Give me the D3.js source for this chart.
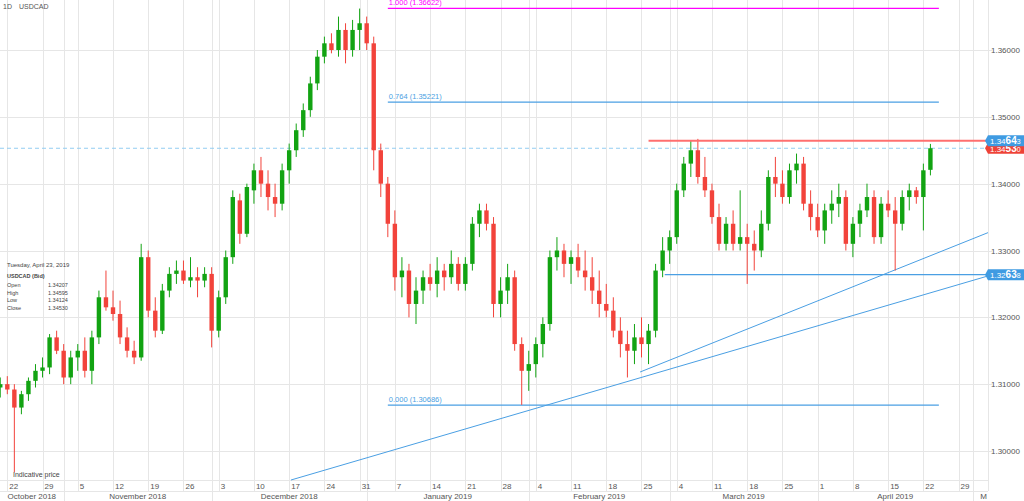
<!DOCTYPE html>
<html>
<head>
<style>
body { margin: 0; background: #fff; }
text { font-family: 'Liberation Sans', Arial, sans-serif; }
</style>
</head>
<body>
<svg id='chart'></svg>
<script src="https://d3js.org/d3.v7.min.js"></script>
<script>
W = 1024
H = 501
PLOT_RIGHT = 988
AXIS_TOP = 480

// trading days from Fri Oct 19 2018 to Tue Apr 23 2019 (index 0 = Mon Oct 22)
var opens  = [1.3095,1.3100,1.3092,1.3065,1.3085,1.3105,1.3120,1.3125,1.3170,1.3150,1.3110,1.3140,1.3150,1.3120,1.3170,1.3230,1.3215,1.3205,1.3170,1.3150,1.3140,1.3290,1.3210,1.3180,1.3240,1.3265,1.3270,1.3255,1.3260,1.3255,1.3265,
              1.3180,1.3230,1.3290,1.3375,1.3325,1.3390,1.3420,1.3400,1.3380,1.3370,1.3420,1.3450,1.3480,1.3510,1.3550,1.3590,1.3610,1.3600,1.3630,1.3600,1.3630,
              1.3640,1.3610,1.3450,1.3400,1.3340,1.3260,1.3270,1.3220,1.3240,1.3260,1.3250,1.3270,1.3260,1.3280,1.3250,1.3280,1.3340,1.3360,1.3340,1.3220,1.3240,1.3260,1.3160,
              1.3120,1.3130,1.3160,1.3190,1.3290,1.3300,1.3280,1.3290,1.3270,1.3260,1.3240,1.3220,1.3210,1.3180,1.3160,1.3150,1.3170,1.3160,1.3180,1.3270,
              1.3300,1.3320,1.3390,1.3430,1.3450,1.3410,1.3390,1.3350,1.3310,1.3340,1.3310,1.3320,1.3310,1.3300,1.3340,1.3410,1.3400,1.3380,1.3420,1.3430,1.3370,
              1.3350,1.3330,1.3360,1.3370,1.3380,1.3310,1.3340,1.3360,1.3380,1.3320,1.3370,1.3360,1.3340,1.3380,1.3390,1.3380,1.34207]
var highs  = [1.3110,1.3112,1.3100,1.3090,1.3110,1.3130,1.3140,1.3175,1.3180,1.3160,1.3150,1.3160,1.3170,1.3180,1.3240,1.3270,1.3240,1.3225,1.3185,1.3165,1.3310,1.3300,1.3230,1.3250,1.3275,1.3285,1.3285,1.3290,1.3275,1.3275,1.3275,
              1.3240,1.3300,1.3390,1.3385,1.3400,1.3430,1.3440,1.3420,1.3400,1.3430,1.3460,1.3490,1.3520,1.3560,1.3600,1.3620,1.3625,1.3650,1.3640,1.3645,1.3662,
              1.3650,1.3620,1.3460,1.3410,1.3360,1.3290,1.3280,1.3260,1.3270,1.3280,1.3290,1.3280,1.3300,1.3290,1.3290,1.3350,1.3370,1.3370,1.3350,1.3260,1.3280,1.3270,1.3170,
              1.3150,1.3170,1.3200,1.3300,1.3320,1.3310,1.3300,1.3310,1.3300,1.3290,1.3270,1.3250,1.3230,1.3200,1.3180,1.3190,1.3200,1.3190,1.3280,1.3320,
              1.3330,1.3400,1.3440,1.3465,1.3467,1.3440,1.3400,1.3370,1.3350,1.3360,1.3390,1.3340,1.3330,1.3360,1.3420,1.3440,1.3420,1.3430,1.3445,1.3440,1.3390,
              1.3370,1.3370,1.3390,1.3400,1.3390,1.3350,1.3370,1.3400,1.3390,1.3380,1.3390,1.3380,1.3390,1.3400,1.3395,1.3430,1.34595]
var lows   = [1.3080,1.3085,1.2968,1.3055,1.3075,1.3095,1.3110,1.3115,1.3145,1.3100,1.3100,1.3120,1.3110,1.3100,1.3160,1.3210,1.3195,1.3160,1.3140,1.3130,1.3135,1.3200,1.3170,1.3175,1.3230,1.3250,1.3250,1.3245,1.3230,1.3245,1.3155,
              1.3170,1.3220,1.3280,1.3310,1.3320,1.3370,1.3380,1.3360,1.3350,1.3360,1.3400,1.3440,1.3470,1.3500,1.3540,1.3580,1.3595,1.3590,1.3580,1.3590,1.3600,
              1.3600,1.3420,1.3380,1.3320,1.3240,1.3230,1.3200,1.3190,1.3220,1.3240,1.3230,1.3240,1.3250,1.3240,1.3240,1.3270,1.3320,1.3330,1.3200,1.3200,1.3220,1.3150,1.3069,
              1.3090,1.3110,1.3140,1.3180,1.3270,1.3260,1.3250,1.3260,1.3240,1.3220,1.3200,1.3200,1.3170,1.3140,1.3110,1.3130,1.3140,1.3130,1.3170,1.3260,
              1.3280,1.3310,1.3380,1.3410,1.3400,1.3380,1.3340,1.3300,1.3300,1.3300,1.3300,1.3250,1.3270,1.3290,1.3330,1.3380,1.3370,1.3370,1.3400,1.3360,1.3330,
              1.3320,1.3310,1.3340,1.3350,1.3300,1.3290,1.3320,1.3350,1.3310,1.3310,1.3350,1.3270,1.3330,1.3360,1.3370,1.3330,1.34124]
var closes = [1.3100,1.3092,1.3065,1.3085,1.3105,1.3120,1.3125,1.3170,1.3150,1.3110,1.3140,1.3150,1.3120,1.3170,1.3230,1.3215,1.3205,1.3170,1.3150,1.3140,1.3290,1.3210,1.3180,1.3240,1.3265,1.3270,1.3255,1.3260,1.3255,1.3265,1.3180,
              1.3230,1.3290,1.3380,1.3325,1.3395,1.3420,1.3400,1.3380,1.3370,1.3420,1.3450,1.3480,1.3510,1.3550,1.3590,1.3610,1.3600,1.3630,1.3600,1.3630,1.3640,
              1.3610,1.3450,1.3400,1.3340,1.3260,1.3270,1.3220,1.3240,1.3260,1.3250,1.3270,1.3260,1.3280,1.3250,1.3280,1.3340,1.3360,1.3340,1.3220,1.3240,1.3260,1.3160,1.3120,
              1.3130,1.3160,1.3190,1.3290,1.3300,1.3280,1.3290,1.3270,1.3260,1.3240,1.3220,1.3210,1.3180,1.3160,1.3150,1.3170,1.3160,1.3180,1.3270,1.3300,
              1.3320,1.3390,1.3430,1.3450,1.3410,1.3390,1.3350,1.3310,1.3340,1.3310,1.3320,1.3310,1.3300,1.3340,1.3410,1.3400,1.3380,1.3420,1.3430,1.3370,1.3350,
              1.3330,1.3360,1.3370,1.3380,1.3310,1.3340,1.3360,1.3380,1.3320,1.3370,1.3360,1.3340,1.3380,1.3390,1.3380,1.3420,1.34530]

var priceTicks = [1.30, 1.31, 1.32, 1.33, 1.34, 1.35, 1.36]
var dayTickLabels = ['22','29','5','12','19','26','3','10','17','24','31','7','14','21','28','4','11','18','25','4','11','18','25','1','8','15','22','29']
var monthLabels = ['October 2018','November 2018','December 2018','January 2019','February 2019','March 2019','April 2019','M']
// index of the bar where each month starts (weekend starts fall on the Friday before)
var monthStarts = [8, 29, 51, 74, 94, 115, 137]

var fibLevels = [1.0, 0.764, 0.0]
var fibPrices = [1.36622, 1.35221, 1.30686]
var fibColors = ['#ff00ff', '#4a9fe3', '#4a9fe3']
var fibSpan = [54, 132.2]

var resistance = 1.34643
var support = 1.32638
var lastBid = 1.34530
// trend lines as [bar index, price] pairs
var trendLines = [
	[[40.26, 1.29566], [139.17, 1.32619]],
	[[89.8, 1.31182], [139.17, 1.33267]]
]

var info = [['Open', '1.34207'], ['High', '1.34595'], ['Low', '1.34124'], ['Close', '1.34530']]

var x = d3.scaleLinear().domain([0, 135]).range([7.3, 958.6])
var y = d3.scaleLinear().domain([1.30, 1.36]).range([451, 50])

var svg = d3.select('#chart').attr('width', W).attr('height', H)

var GRID = '#e6e6e6'
var TEXT = '#555'

// horizontal grid
svg.selectAll('.hgrid').data(priceTicks).enter().append('line')
	.attr('x1', 0).attr('x2', PLOT_RIGHT + 4)
	.attr('y1', function(d){ return Math.round(y(d)) + 0.5 })
	.attr('y2', function(d){ return Math.round(y(d)) + 0.5 })
	.style('stroke', GRID)

// weekly grid
var mondays = d3.range(0, 136, 5)
svg.selectAll('.vgrid').data(mondays).enter().append('line')
	.attr('x1', function(d){ return Math.round(x(d)) + 0.5 })
	.attr('x2', function(d){ return Math.round(x(d)) + 0.5 })
	.attr('y1', 0).attr('y2', 491)
	.style('stroke', GRID)

// month separators
svg.selectAll('.mgrid').data(monthStarts).enter().append('line')
	.attr('x1', function(d){ return Math.round(x(d)) + 0.5 })
	.attr('x2', function(d){ return Math.round(x(d)) + 0.5 })
	.attr('y1', 0).attr('y2', H)
	.style('stroke', GRID)

// axis frame
svg.append('line').attr('x1', PLOT_RIGHT + 0.5).attr('x2', PLOT_RIGHT + 0.5).attr('y1', 0).attr('y2', 491).style('stroke', GRID)
svg.append('line').attr('x1', 0).attr('x2', PLOT_RIGHT).attr('y1', AXIS_TOP + 0.5).attr('y2', AXIS_TOP + 0.5).style('stroke', GRID)
svg.append('line').attr('x1', 0).attr('x2', PLOT_RIGHT).attr('y1', 491.5).attr('y2', 491.5).style('stroke', GRID)

// price labels
svg.selectAll('.ptick').data(priceTicks).enter().append('text')
	.attr('x', PLOT_RIGHT + 3)
	.attr('y', function(d){ return y(d) + 3 })
	.attr('font-size', 8)
	.style('fill', TEXT)
	.text(function(d){ return d.toFixed(5) })

// day labels
svg.selectAll('.dtick').data(dayTickLabels).enter().append('text')
	.attr('x', function(d, i){ return x(i * 5) + 2 })
	.attr('y', 489)
	.attr('font-size', 8)
	.style('fill', TEXT)
	.text(function(d){ return d })

// month labels
var bounds = [x.invert(0)].concat(monthStarts).concat([x.invert(PLOT_RIGHT)])
svg.selectAll('.mlabel').data(monthLabels).enter().append('text')
	.attr('x', function(d, i){ return i == monthLabels.length - 1 ? x(bounds[i]) + 11 : (x(bounds[i]) + x(bounds[i+1])) / 2 })
	.attr('y', 499)
	.attr('font-size', 8)
	.attr('text-anchor', 'middle')
	.style('fill', TEXT)
	.text(function(d){ return d })

// trend lines
trendLines.forEach(function(t){
	svg.append('line')
		.attr('x1', x(t[0][0])).attr('y1', y(t[0][1]))
		.attr('x2', x(t[1][0])).attr('y2', y(t[1][1]))
		.style('stroke', '#4a9fe3').style('stroke-width', 1)
})

// fibonacci levels
fibPrices.forEach(function(p, i){
	svg.append('line')
		.attr('x1', x(fibSpan[0])).attr('x2', x(fibSpan[1]))
		.attr('y1', y(p)).attr('y2', y(p))
		.style('stroke', fibColors[i]).style('stroke-width', 1.2)
	svg.append('text')
		.attr('x', x(fibSpan[0]) + 1).attr('y', y(p) - 3)
		.attr('font-size', 7.5)
		.style('fill', fibColors[i])
		.text(fibLevels[i].toFixed(3) + ' (' + p.toFixed(5) + ')')
})

// support / resistance
svg.append('line').attr('x1', x(93.3)).attr('x2', PLOT_RIGHT)
	.attr('y1', y(support)).attr('y2', y(support))
	.style('stroke', '#4a9fe3').style('stroke-width', 1.2)
svg.append('line').attr('x1', 0).attr('x2', PLOT_RIGHT)
	.attr('y1', y(lastBid)).attr('y2', y(lastBid))
	.style('stroke', '#92cdf2').style('stroke-width', 1.2).attr('stroke-dasharray', '4,3')

// candles
var bars = d3.range(opens.length).map(function(i){
	return { i: i - 1, o: opens[i], h: highs[i], l: lows[i], c: closes[i] }
})
var GREEN = '#12a312'
var RED = '#f2433b'
svg.selectAll('.wick').data(bars).enter().append('line')
	.attr('x1', function(d){ return x(d.i) }).attr('x2', function(d){ return x(d.i) })
	.attr('y1', function(d){ return y(d.h) }).attr('y2', function(d){ return y(d.l) })
	.style('stroke', function(d){ return d.c >= d.o ? GREEN : RED })
	.style('stroke-width', 1)
svg.selectAll('.body').data(bars).enter().append('rect')
	.attr('x', function(d){ return x(d.i) - 2.2 })
	.attr('width', 4.4)
	.attr('y', function(d){ return y(Math.max(d.o, d.c)) })
	.attr('height', function(d){ return Math.max(1, Math.abs(y(d.o) - y(d.c))) })
	.style('fill', function(d){ return d.c >= d.o ? GREEN : RED })

svg.append('line').attr('x1', x(91)).attr('x2', PLOT_RIGHT)
	.attr('y1', y(resistance)).attr('y2', y(resistance))
	.style('stroke', '#ff6f6f').style('stroke-width', 2)

// right-hand price boxes
function priceBox(p, color) {
	var s = p.toFixed(5)
	var cy = y(p)
	svg.append('path')
		.attr('d', 'M ' + (PLOT_RIGHT - 3) + ' ' + cy + ' L ' + PLOT_RIGHT + ' ' + (cy - 5.5) + ' L ' + W + ' ' + (cy - 5.5) + ' L ' + W + ' ' + (cy + 5.5) + ' L ' + PLOT_RIGHT + ' ' + (cy + 5.5) + ' Z')
		.style('fill', color)
	var t = svg.append('text').attr('x', PLOT_RIGHT + 2).attr('y', cy + 3.5).style('fill', '#fff')
	t.append('tspan').attr('font-size', 8).text(s.slice(0, 4))
	t.append('tspan').attr('font-size', 10).attr('font-weight', 'bold').text(s.slice(4, 6))
	t.append('tspan').attr('font-size', 7).text(s.slice(6))
}
priceBox(lastBid, '#ee4237')
priceBox(resistance, '#3f9be2')
priceBox(support, '#3f9be2')

// header
svg.append('text').attr('x', 3).attr('y', 9).attr('font-size', 7).style('fill', TEXT).text('1D')
svg.append('text').attr('x', 19).attr('y', 9).attr('font-size', 7).style('fill', TEXT).text('USDCAD')

// info panel
svg.append('text').attr('x', 7).attr('y', 267).attr('font-size', 6).style('fill', '#444').text('Tuesday, April 23, 2019')
svg.append('text').attr('x', 7).attr('y', 278).attr('font-size', 5.5).attr('font-weight', 'bold').style('fill', '#444').text('USDCAD (Bid)')
info.forEach(function(r, i){
	svg.append('text').attr('x', 7).attr('y', 287 + i * 7.7).attr('font-size', 5.5).style('fill', '#444').text(r[0])
	svg.append('text').attr('x', 48).attr('y', 287 + i * 7.7).attr('font-size', 5.5).style('fill', '#444').text(r[1])
})

svg.append('text').attr('x', 13).attr('y', 477).attr('font-size', 7).style('fill', '#444').text('Indicative price')
</script>
</body>
</html>
